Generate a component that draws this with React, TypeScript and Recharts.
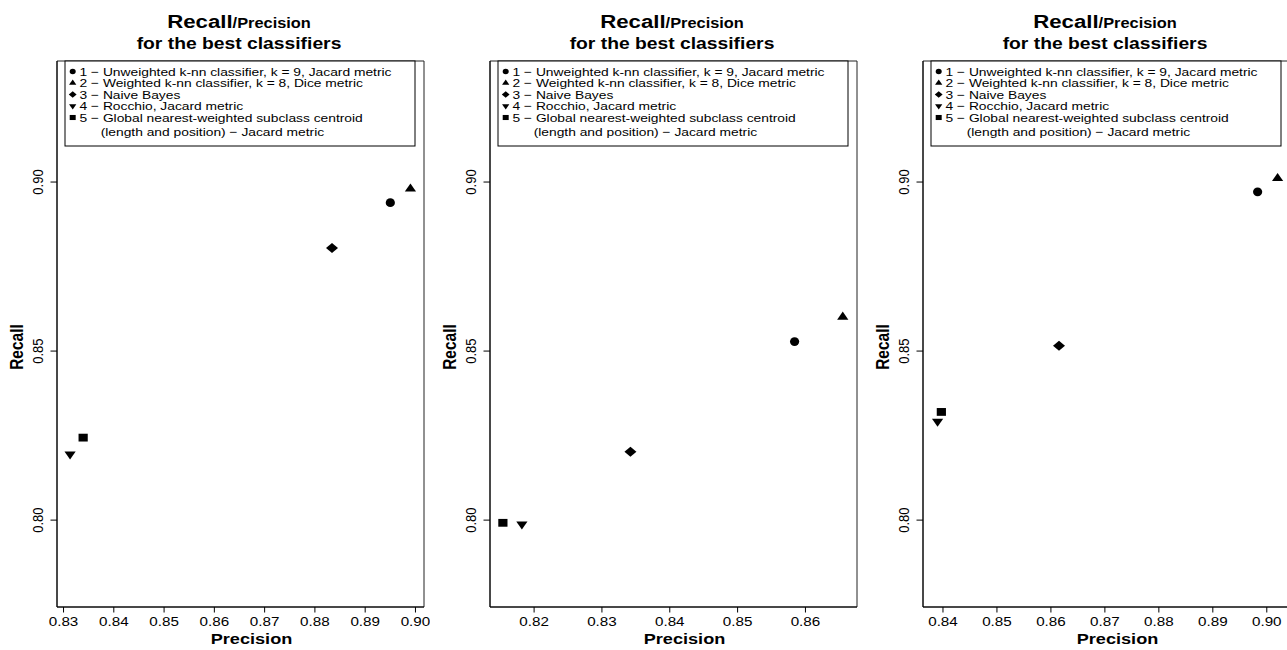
import { ScatterChart, Scatter, XAxis, YAxis, ReferenceArea } from 'recharts';

const FONT = '"Liberation Sans", Arial, Helvetica, sans-serif';
// the reference is a horizontally stretched R plot, so text is widened a bit
const SX = 1.17;

const classifiers = [
  '1 − Unweighted k-nn classifier, k = 9, Jacard metric',
  '2 − Weighted k-nn classifier, k = 8, Dice metric',
  '3 − Naive Bayes',
  '4 − Rocchio, Jacard metric',
  '5 − Global nearest-weighted subclass centroid',
];
const legendExtra = '(length and position) − Jacard metric';
const markers = ['circle', 'triangleUp', 'diamond', 'triangleDown', 'square'];

const precision1 = [0.895, 0.899, 0.8834, 0.8313, 0.8339];
const recall1 = [0.8939, 0.898, 0.8805, 0.8195, 0.8244];
const precision2 = [0.8584, 0.8655, 0.8342, 0.8182, 0.8154];
const recall2 = [0.8528, 0.8601, 0.8202, 0.7988, 0.7992];
const precision3 = [0.8983, 0.902, 0.8615, 0.839, 0.8397];
const recall3 = [0.8971, 0.9011, 0.8516, 0.8292, 0.832];

const xTicks1 = [0.83, 0.84, 0.85, 0.86, 0.87, 0.88, 0.89, 0.9];
const xTicks2 = [0.82, 0.83, 0.84, 0.85, 0.86];
const xTicks3 = [0.84, 0.85, 0.86, 0.87, 0.88, 0.89, 0.9];
const xDomain1: [number, number] = [0.8287, 0.9017];
const xDomain2: [number, number] = [0.8135, 0.8676];
const xDomain3: [number, number] = [0.8363, 0.9043];
const yTicks = [0.8, 0.85, 0.9];
const yDomain: [number, number] = [0.7743, 0.9358];

function Marker({ kind, cx, cy, k = 1 }: { kind: string; cx: number; cy: number; k?: number }) {
  if (cx == null || cy == null) return null;
  switch (kind) {
    case 'circle':
      return <ellipse cx={cx} cy={cy} rx={4.6 * k} ry={4.3 * k} fill="#000" />;
    case 'triangleUp':
      return (
        <polygon
          points={`${cx},${cy - 5.4 * k} ${cx + 5.6 * k},${cy + 2.7 * k} ${cx - 5.6 * k},${cy + 2.7 * k}`}
          fill="#000"
        />
      );
    case 'triangleDown':
      return (
        <polygon
          points={`${cx},${cy + 5.4 * k} ${cx + 5.6 * k},${cy - 2.7 * k} ${cx - 5.6 * k},${cy - 2.7 * k}`}
          fill="#000"
        />
      );
    case 'diamond':
      return (
        <polygon
          points={`${cx},${cy - 5 * k} ${cx + 6 * k},${cy} ${cx},${cy + 5 * k} ${cx - 6 * k},${cy}`}
          fill="#000"
        />
      );
    default:
      return <rect x={cx - 4.6 * k} y={cy - 3.9 * k} width={9.2 * k} height={7.8 * k} fill="#000" />;
  }
}

const XTick = ({ x, y, payload }: any) => (
  <text
    transform={`translate(${x},${y + 11}) scale(${SX},1)`}
    textAnchor="middle"
    fontSize={13}
    fontFamily={FONT}
    fill="#000"
  >
    {Number(payload.value).toFixed(2)}
  </text>
);

const YTick = ({ x, y, payload }: any) => (
  <text
    transform={`translate(${x - 5.5},${y}) scale(${SX},1) rotate(-90)`}
    textAnchor="middle"
    fontSize={13}
    fontFamily={FONT}
    fill="#000"
  >
    {Number(payload.value).toFixed(2)}
  </text>
);

const XLabel = ({ viewBox }: any) => (
  <text
    transform={`translate(${viewBox.x + viewBox.width / 2 + 11},${viewBox.y + 37}) scale(${SX},1)`}
    textAnchor="middle"
    fontSize={15.5}
    fontWeight="bold"
    fontFamily={FONT}
    fill="#000"
  >
    Precision
  </text>
);

const YLabel = ({ viewBox }: any) => (
  <text
    transform={`translate(${viewBox.x + 23},${viewBox.y + viewBox.height / 2 + 13}) scale(${SX},1) rotate(-90)`}
    textAnchor="middle"
    fontSize={15.5}
    fontWeight="bold"
    fontFamily={FONT}
    fill="#000"
  >
    Recall
  </text>
);

function Overlay() {
  const boxL = 65;
  const boxR = 415;
  const baselines = [75.5, 87, 98.5, 110, 121.5];
  return (
    <svg width={430} height={650} style={{ position: 'absolute', left: 0, top: 0, pointerEvents: 'none' }}>
      <text
        transform={`translate(239,28) scale(${SX},1)`}
        textAnchor="middle"
        fontWeight="bold"
        fontFamily={FONT}
        fill="#000"
      >
        <tspan fontSize={19}>Recall</tspan>
        <tspan fontSize={14}>/Precision</tspan>
      </text>
      <text
        transform={`translate(239,49) scale(${SX},1)`}
        textAnchor="middle"
        fontWeight="bold"
        fontSize={16.5}
        fontFamily={FONT}
        fill="#000"
      >
        for the best classifiers
      </text>
      <rect x={boxL} y={61} width={boxR - boxL} height={85} fill="#fff" stroke="#000" strokeWidth={1} />
      {classifiers.map((name, i) => (
        <g key={name}>
          <Marker kind={markers[i]} cx={boxL + 7.7} cy={baselines[i] - 4} k={0.65} />
          <text
            transform={`translate(${boxL + 14.5},${baselines[i]}) scale(${SX},1)`}
            fontSize={11.8}
            fontFamily={FONT}
            fill="#000"
          >
            {name}
          </text>
        </g>
      ))}
      <text
        transform={`translate(${boxL + 35.7},135.5) scale(${SX},1)`}
        fontSize={11.8}
        fontFamily={FONT}
        fill="#000"
      >
        {legendExtra}
      </text>
    </svg>
  );
}

interface PanelProps {
  left: number;
  precision: number[];
  recall: number[];
  xDomain: [number, number];
  xTicks: number[];
}

function Panel({ left, precision, recall, xDomain, xTicks }: PanelProps) {
  return (
    <div style={{ position: 'absolute', left, top: 0, width: 430, height: 650 }}>
      <ScatterChart width={430} height={650} margin={{ top: 61, right: 6, bottom: 0, left: 0 }}>
        <XAxis
          type="number"
          dataKey="precision"
          domain={xDomain}
          ticks={xTicks}
          allowDataOverflow
          height={43}
          tickSize={5.5}
          tick={<XTick />}
          axisLine={{ stroke: '#000' }}
          tickLine={{ stroke: '#000' }}
          label={(p: any) => <XLabel {...p} />}
        />
        <YAxis
          type="number"
          dataKey="recall"
          domain={yDomain}
          ticks={yTicks}
          allowDataOverflow
          width={57}
          tickSize={6.5}
          tick={<YTick />}
          axisLine={{ stroke: '#000' }}
          tickLine={{ stroke: '#000' }}
          label={(p: any) => <YLabel {...p} />}
        />
        <ReferenceArea
          x1={xDomain[0]}
          x2={xDomain[1]}
          y1={yDomain[0]}
          y2={yDomain[1]}
          fill="none"
          stroke="#222"
          strokeWidth={1}
        />
        {classifiers.map((name, i) => (
          <Scatter
            key={name}
            name={name}
            data={[{ precision: precision[i], recall: recall[i] }]}
            isAnimationActive={false}
            shape={(p: any) => <Marker kind={markers[i]} cx={p.cx} cy={p.cy} />}
          />
        ))}
      </ScatterChart>
      <Overlay />
    </div>
  );
}

export default function App() {
  return (
    <div
      style={{
        position: 'absolute',
        left: 0,
        top: 0,
        width: 1287,
        height: 650,
        overflow: 'hidden',
        background: '#fff',
      }}
    >
      <Panel left={0} precision={precision1} recall={recall1} xDomain={xDomain1} xTicks={xTicks1} />
      <Panel left={433} precision={precision2} recall={recall2} xDomain={xDomain2} xTicks={xTicks2} />
      <Panel left={866} precision={precision3} recall={recall3} xDomain={xDomain3} xTicks={xTicks3} />
    </div>
  );
}
